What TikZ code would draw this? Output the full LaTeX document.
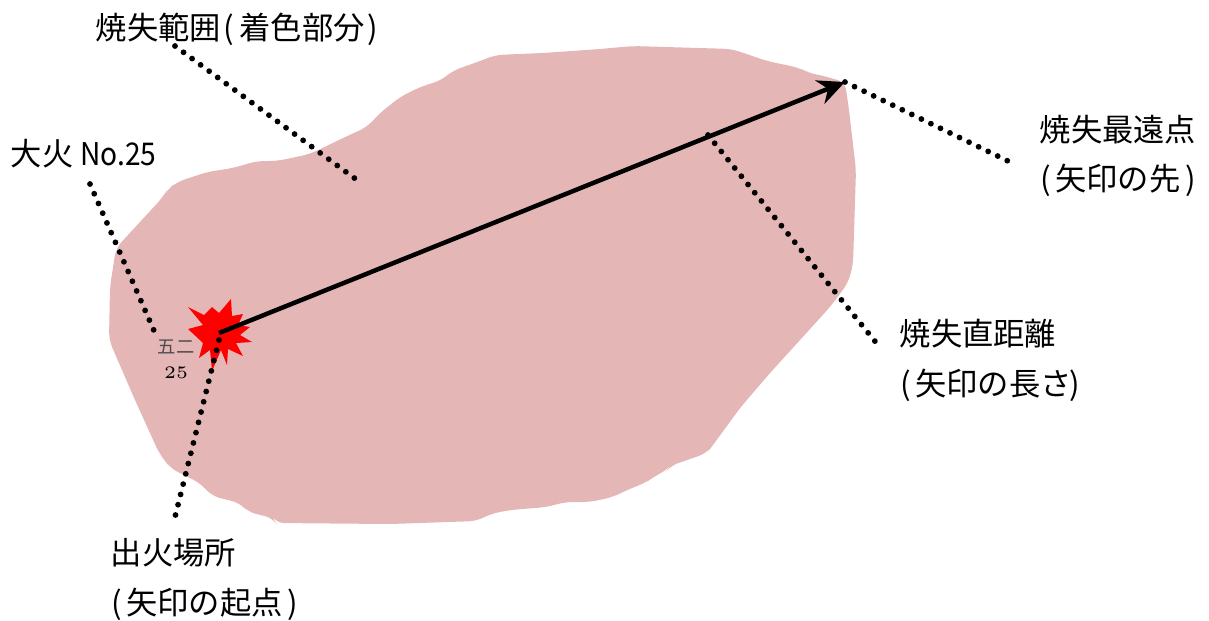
\documentclass[tikz,border=0pt]{standalone}
\usepackage{fontspec}
\usepackage{tikz}
\usetikzlibrary{arrows.meta}
\newfontfamily\gothic{Noto Sans CJK JP}
\definecolor{burnt}{RGB}{229,182,182}
\newcommand{\lpar}{\kern0.01cm(\kern0.04cm}
\newcommand{\rpar}{\kern0.05cm)}
\tikzset{
lbl/.style={anchor=north west, inner sep=0pt, align=left, font=\gothic\fontsize{8.9}{14.2}\selectfont},
leader/.style={line width=0.058cm, line cap=round, dash pattern=on 0pt off 0.106cm},
}
\begin{document}
\begin{tikzpicture}[x=0.01cm,y=-0.01cm]
\useasboundingbox (0,0) rectangle (1209,620);
% draws burnt area
\fill[burnt, rounded corners=0.08cm] (110,287) -- (116,248) -- (163,197) -- (167,190) -- (177,182) -- (207,172) -- (233,168)
 -- (257,161) -- (277,161) -- (310,154) -- (343,138) -- (367,127) -- (380,113) -- (400,97) -- (420,87)
 -- (442,80) -- (452,71) -- (483,60) -- (495,55) -- (543,53) -- (600,49) -- (633,46) -- (732,49)
 -- (767,61) -- (800,68) -- (808,73) -- (820,75) -- (845,82) -- (849,110) -- (856,170) -- (853,265)
 -- (848,283) -- (830,307) -- (770,373) -- (740,408) -- (713,445) -- (707,453) -- (670,466) -- (667,470)
 -- (653,477) -- (647,482) -- (627,490) -- (613,497) -- (590,502) -- (565,502) -- (547,507) -- (510,510)
 -- (490,514) -- (477,521) -- (390,524) -- (276,523) -- (273,518) -- (248,512) -- (240,503) -- (212,496)
 -- (200,483) -- (190,478) -- (170,468) -- (165,460) -- (160,455) -- (135,400) -- (109,340) -- cycle;
% draws fire mark
\fill[red] (188,307) -- (204,315) -- (212,307) -- (219,313) -- (231,299) -- (232,316) -- (243,314)
 -- (238,325) -- (250,327) -- (240,335) -- (252,342) -- (236,343) -- (243,356) -- (228,349) -- (227,365)
 -- (221,350) -- (212,371) -- (210,350) -- (199,358) -- (203,343) -- (188,329) -- (203,325) -- cycle;
% names line ends
\coordinate (start) at (219,333);
\coordinate (far) at (845,82);
\coordinate (areaA) at (175,46);
\coordinate (areaB) at (357,180);
\coordinate (noA) at (90,184);
\coordinate (noB) at (155,333);
\coordinate (originA) at (219,340);
\coordinate (originB) at (175,517);
\coordinate (farB) at (1010,162);
\coordinate (lenA) at (708,135);
\coordinate (lenB) at (878,345);
% labels
\node[lbl] (area) at (95,12) {焼失範囲\kern0.03cm(\kern0.05cm着色部分\kern0.03cm)};
\node[lbl] (fireno) at (10,139) {大火 \scalebox{0.9}[1]{No.25}};
\node[lbl] (farlbl) at (1039,114) {焼失最遠点\\\lpar 矢印の先\rpar};
\node[lbl] (lenlbl) at (899,318) {焼失直距離\\\lpar 矢印の長さ\kern-0.07cm\rpar};
\node[lbl] (originlbl) at (110,538) {出火場所\\\lpar 矢印の起点\rpar};
\node[font=\gothic\fontsize{5.2}{6}\selectfont, text=black!70, inner sep=0pt] (mark) at (176,347) {五二};
\node[font=\fontsize{5}{6}\selectfont, inner sep=0pt] (markno) at (176,373) {25};
% draws leaders
\draw[leader] (areaA) -- (areaB);
\draw[leader] (noA) -- (noB);
\draw[leader] (originA) -- (originB);
\draw[leader] (far) -- (farB);
\draw[leader] (lenA) -- (lenB);
% draws arrow
\draw[line width=0.045cm, -{Stealth[length=0.27cm,width=0.25cm]}] (start) -- (far);
\end{tikzpicture}
\end{document}
